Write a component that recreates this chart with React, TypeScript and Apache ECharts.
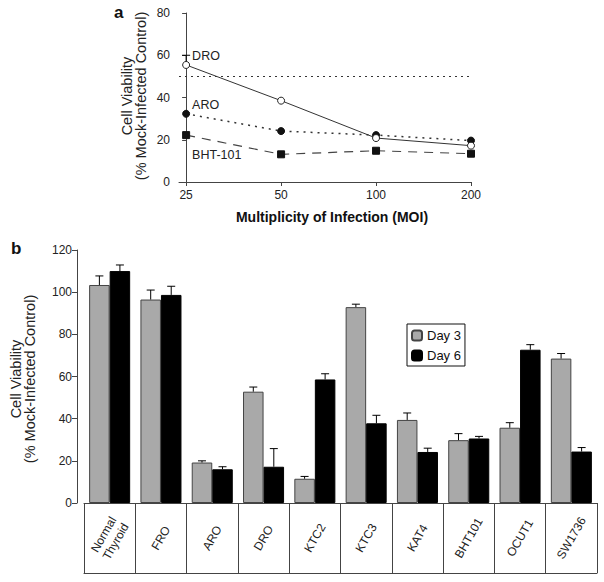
import React, { useEffect, useRef } from "react";
import * as echarts from "echarts";

// ---- Panel a data ----
const moiLabels = ["25", "50", "100", "200"];
const droValues = [55.4, 38.5, 20.8, 17.2];
const droErrTop = [60, null, null, null];
const aroValues = [32.3, 24.1, 22.2, 19.6];
const bhtValues = [22.2, 13.1, 14.8, 13.4];
const thresholdValue = 50;

// ---- Panel b data ----
const cellLines = ["Normal\nThyroid", "FRO", "ARO", "DRO", "KTC2", "KTC3", "KAT4", "BHT101", "OCUT1", "SW1736"];
const day3Values = [103.4, 96.5, 19.2, 52.8, 11.5, 92.9, 39.4, 29.8, 35.7, 68.5];
const day3ErrTop = [107.7, 101, 20, 55, 12.6, 94.3, 42.7, 32.9, 38.1, 70.9];
const day6Values = [110, 98.7, 16, 17.2, 58.6, 37.8, 24.2, 30.6, 72.7, 24.4];
const day6ErrTop = [112.9, 102.8, 17.2, 25.8, 61.3, 41.6, 26, 31.6, 75.1, 26.3];

const yTitle = "Cell Viability\n(% Mock-Infected Control)";

const FONT = "Liberation Sans";
const GRAY = "#a9a9a9";
const CAT_GAP = 0.2;

export default function App() {
  const ref = useRef<HTMLDivElement>(null);

  useEffect(() => {
    if (!ref.current) return;
    const chart = echarts.init(ref.current, null, { renderer: "svg" });

    const errBarRender = (sign: number, isCat: boolean) => (params: any, api: any) => {
      const x = api.value(0);
      const v = api.value(1);
      const e = api.value(2);
      const p0 = api.coord([x, v]);
      const p1 = api.coord([x, e]);
      let cx = p0[0];
      if (isCat) {
        const band = api.size([1, 0])[0];
        const bw = (band * (1 - CAT_GAP)) / 2;
        cx += (sign * bw) / 2;
      }
      return {
        type: "group",
        children: [
          { type: "line", shape: { x1: cx, y1: p0[1], x2: cx, y2: p1[1] }, style: { stroke: "#000", lineWidth: 1 } },
          { type: "line", shape: { x1: cx - 4, y1: p1[1], x2: cx + 4, y2: p1[1] }, style: { stroke: "#000", lineWidth: 1 } },
        ],
      };
    };

    const firstLabel = (name: string, offset: number[]) => ({
      show: true,
      formatter: name,
      position: "right",
      offset,
      color: "#222",
      fontFamily: FONT,
      fontSize: 12.5,
    });

    const lineData = (vals: number[], name: string, offset: number[]) =>
      vals.map((v, i) => (i === 0 ? { value: [i, v], label: firstLabel(name, offset) } : { value: [i, v] }));

    const yName = (x: number, y: number) => ({
      type: "text",
      x,
      y,
      rotation: Math.PI / 2,
      style: {
        text: yTitle,
        font: `14.5px ${FONT}`,
        fill: "#222",
        align: "center",
        verticalAlign: "middle",
        lineHeight: 14,
      },
    });

    const option: any = {
      animation: false,
      textStyle: { fontFamily: FONT },
      graphic: [
        { type: "text", left: 114, top: 4, style: { text: "a", font: `bold 17px ${FONT}`, fill: "#111" } },
        { type: "text", left: 11, top: 240, style: { text: "b", font: `bold 17px ${FONT}`, fill: "#111" } },
        yName(134, 96),
        yName(23, 379),
      ],
      legend: {
        show: true,
        data: ["Day 3", "Day 6"],
        orient: "vertical",
        left: 407,
        top: 324,
        itemWidth: 10,
        itemHeight: 10,
        itemGap: 7,
        padding: [5, 4, 4, 4],
        borderColor: "#111",
        borderWidth: 1,
        textStyle: { fontFamily: FONT, fontSize: 13, color: "#111" },
      },
      grid: [
        { left: 179, top: 13, width: 292, height: 169 },
        { left: 84, top: 250, right: 7, height: 253 },
      ],
      xAxis: [
        {
          gridIndex: 0,
          type: "value",
          min: -0.075,
          max: 3,
          splitLine: { show: false },
          axisLine: { show: true, lineStyle: { color: "#444" } },
          axisTick: { show: true, customValues: [0, 1, 2, 3], length: 4, lineStyle: { color: "#444" } },
          axisLabel: {
            customValues: [0, 1, 2, 3],
            formatter: (v: number) => moiLabels[Math.round(v)],
            color: "#222",
            fontSize: 12,
            margin: 7,
          },
          name: "Multiplicity of Infection (MOI)",
          nameLocation: "middle",
          nameGap: 28,
          nameTextStyle: { fontWeight: "bold", fontSize: 14, color: "#111", fontFamily: FONT, padding: [0, 0, 0, 14] },
        },
        {
          gridIndex: 1,
          type: "category",
          data: cellLines,
          axisLine: { show: true, lineStyle: { color: "#444" } },
          axisTick: { show: true, length: 70, alignWithLabel: false, lineStyle: { color: "#444" } },
          axisLabel: {
            interval: 0,
            rotate: 60,
            margin: 35,
            align: "center",
            verticalAlign: "middle",
            color: "#222",
            fontSize: 12,
            lineHeight: 14,
          },
        },
        {
          gridIndex: 1,
          type: "category",
          data: cellLines,
          position: "bottom",
          offset: 70,
          axisLine: { show: true, lineStyle: { color: "#444" } },
          axisTick: { show: false },
          axisLabel: { show: false },
        },
      ],
      yAxis: [
        {
          gridIndex: 0,
          type: "value",
          min: 0,
          max: 80,
          interval: 20,
          splitLine: { show: false },
          axisLine: { show: true, lineStyle: { color: "#444" } },
          axisTick: { show: true, length: 4, lineStyle: { color: "#444" } },
          axisLabel: { color: "#222", fontSize: 12, margin: 9 },
        },
        {
          gridIndex: 1,
          type: "value",
          min: 0,
          max: 120,
          interval: 20,
          offset: 7,
          splitLine: { show: false },
          axisLine: { show: true, lineStyle: { color: "#444" } },
          axisTick: { show: true, length: 5, lineStyle: { color: "#444" } },
          axisLabel: { color: "#222", fontSize: 12, margin: 5 },
        },
      ],
      series: [
        {
          name: "DRO",
          type: "line",
          xAxisIndex: 0,
          yAxisIndex: 0,
          data: lineData(droValues, "DRO", [-3, -9]),
          symbol: "circle",
          symbolSize: 7,
          itemStyle: { color: "#fff", borderColor: "#222", borderWidth: 1 },
          lineStyle: { color: "#333", width: 1, type: "solid" },
          z: 4,
          markLine: {
            silent: true,
            symbol: "none",
            label: { show: false },
            lineStyle: { color: "#333", type: [2, 4], width: 1.2 },
            data: [{ yAxis: thresholdValue }],
          },
        },
        {
          name: "ARO",
          type: "line",
          xAxisIndex: 0,
          yAxisIndex: 0,
          data: lineData(aroValues, "ARO", [-3, -9]),
          symbol: "circle",
          symbolSize: 7,
          itemStyle: { color: "#111", borderColor: "#111" },
          lineStyle: { color: "#333", width: 1.5, type: [2, 5] },
          z: 3,
        },
        {
          name: "BHT-101",
          type: "line",
          xAxisIndex: 0,
          yAxisIndex: 0,
          data: lineData(bhtValues, "BHT-101", [-3, 20]),
          symbol: "rect",
          symbolSize: 7,
          itemStyle: { color: "#111", borderColor: "#111" },
          lineStyle: { color: "#444", width: 1.2, type: [9, 7] },
          z: 3,
        },
        {
          name: "DRO err",
          type: "custom",
          xAxisIndex: 0,
          yAxisIndex: 0,
          renderItem: errBarRender(0, false),
          data: droErrTop
            .map((e, i) => (e == null ? null : [i, droValues[i] + 3.5 / 2.11, e]))
            .filter((d) => d !== null),
          z: 2,
        },
        {
          name: "Day 3",
          type: "bar",
          xAxisIndex: 1,
          yAxisIndex: 1,
          data: day3Values,
          barGap: "0%",
          barCategoryGap: `${CAT_GAP * 100}%`,
          itemStyle: { color: GRAY, borderColor: "#444", borderWidth: 1 },
        },
        {
          name: "Day 6",
          type: "bar",
          xAxisIndex: 1,
          yAxisIndex: 1,
          data: day6Values,
          barGap: "0%",
          barCategoryGap: `${CAT_GAP * 100}%`,
          itemStyle: { color: "#000", borderColor: "#000", borderWidth: 1 },
        },
        {
          name: "Day 3 err",
          type: "custom",
          xAxisIndex: 1,
          yAxisIndex: 1,
          renderItem: errBarRender(-1, true),
          data: day3Values.map((v, i) => [i, v, day3ErrTop[i]]),
          z: 5,
        },
        {
          name: "Day 6 err",
          type: "custom",
          xAxisIndex: 1,
          yAxisIndex: 1,
          renderItem: errBarRender(1, true),
          data: day6Values.map((v, i) => [i, v, day6ErrTop[i]]),
          z: 5,
        },
      ],
    };

    chart.setOption(option);
    return () => chart.dispose();
  }, []);

  return (
    <div
      ref={ref}
      style={{ position: "fixed", left: 0, top: 0, width: 604, height: 582, background: "#fff" }}
    />
  );
}
